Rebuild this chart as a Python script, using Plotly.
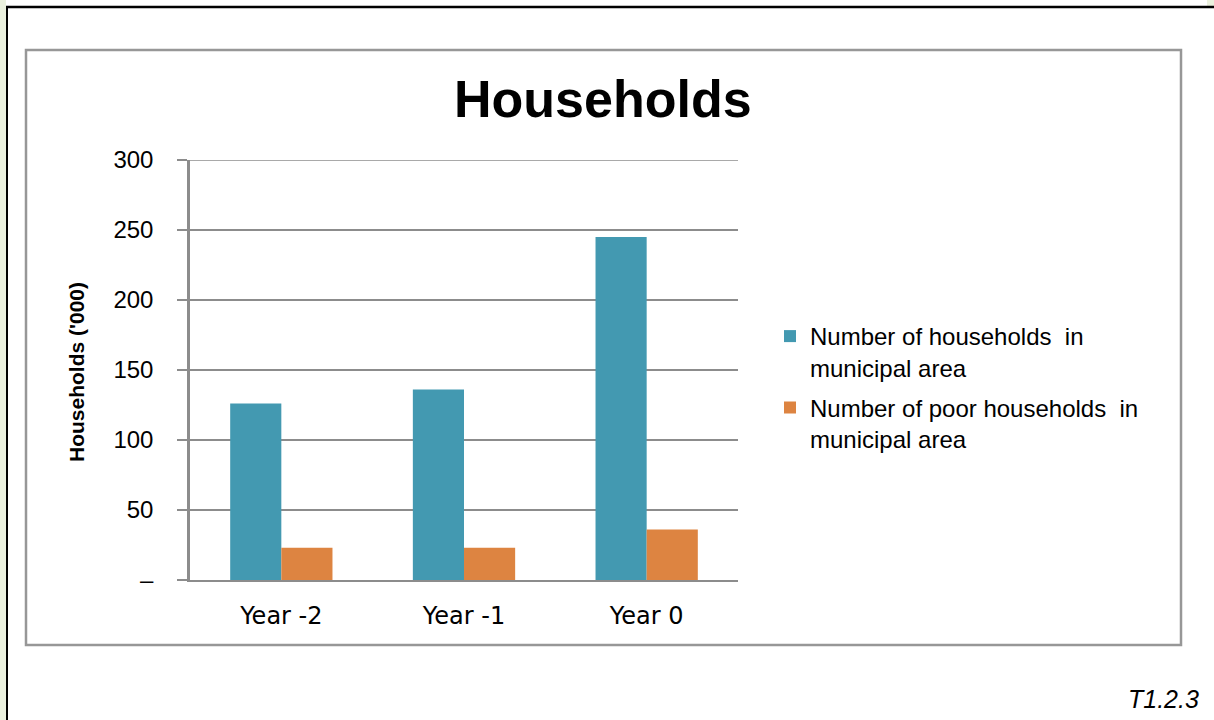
import plotly.graph_objects as go

# Households per year, in thousands
years = ["Year -2", "Year -1", "Year 0"]
households_total = [126, 136, 245]
households_poor = [23, 23, 36]

y_ticks = [0, 50, 100, 150, 200, 250, 300]
y_tick_text = ["–", "50", "100", "150", "200", "250", "300"]

series_names = [
    "Number of households  in<br>municipal area",
    "Number of poor households  in<br>municipal area",
]

W, H = 1214, 720
ML, MR, MT, MB = 190, 476, 160, 140
PW, PH = W - ML - MR, H - MT - MB


def px(x):
    return (x - ML) / PW


def py(y):
    return (H - MB - y) / PH


fig = go.Figure()
fig.add_trace(go.Bar(x=years, y=households_total, name=series_names[0], legendgroup="total",
                     marker=dict(color="#4399B1", line=dict(width=0))))
fig.add_trace(go.Bar(x=years, y=households_poor, name=series_names[1], legendgroup="poor",
                     marker=dict(color="#DD8441", line=dict(width=0))))

shapes = [
    # green page strips
    dict(type="rect", xref="paper", yref="paper", x0=px(0), x1=px(6), y0=py(720), y1=py(0),
         fillcolor="#EBF1DE", line=dict(width=0), layer="below"),
    dict(type="rect", xref="paper", yref="paper", x0=px(1207), x1=px(1214), y0=py(6), y1=py(0),
         fillcolor="#EBF1DE", line=dict(width=0), layer="below"),
    # black page frame
    dict(type="line", xref="paper", yref="paper", x0=px(7), x1=px(7), y0=py(6), y1=py(720),
         line=dict(color="black", width=2)),
    dict(type="line", xref="paper", yref="paper", x0=px(6), x1=px(1214), y0=py(7), y1=py(7),
         line=dict(color="black", width=2.5)),
    # chart box
    dict(type="rect", xref="paper", yref="paper", x0=px(26), x1=px(1181), y0=py(645), y1=py(50),
         line=dict(color="#979797", width=2.5), layer="below"),
    # top gridline at the range edge
    dict(type="line", xref="paper", yref="y", x0=0, x1=1, y0=y_ticks[-1], y1=y_ticks[-1],
         line=dict(color="#8c8c8c", width=1.5), layer="below"),
]

annotations = [
    dict(text="<b>Households</b>", xref="paper", yref="paper", x=px(603), y=py(99),
         showarrow=False, font=dict(family="Liberation Sans", size=52, color="black"),
         xanchor="center", yanchor="middle"),
    dict(text="<b>Households ('000)</b>", xref="paper", yref="paper", x=px(76), y=py(372),
         showarrow=False, textangle=-90, font=dict(family="Liberation Sans", size=21, color="black"),
         xanchor="center", yanchor="middle"),
    dict(text="<i>T1.2.3</i>", xref="paper", yref="paper", x=px(1201), y=py(699),
         showarrow=False, font=dict(family="Liberation Sans", size=25, color="black"),
         xanchor="right", yanchor="middle"),
]

fig.update_layout(
    width=W, height=H,
    margin=dict(l=ML, r=MR, t=MT, b=MB, pad=0),
    paper_bgcolor="white", plot_bgcolor="white",
    barmode="group", bargap=0.44, bargroupgap=0,
    font=dict(family="Liberation Sans", color="black"),
    shapes=shapes, annotations=annotations,
    showlegend=True,
    legend=dict(x=px(770), y=py(314), xanchor="left", yanchor="top",
                font=dict(family="Liberation Sans", size=24, color="black"),
                valign="top", traceorder="grouped", tracegroupgap=6, itemwidth=30,
                bgcolor="rgba(0,0,0,0)"),
)

fig.update_xaxes(
    showline=True, linecolor="#8c8c8c", linewidth=2,
    ticks="", showgrid=False,
    tickfont=dict(family="DejaVu Sans", size=24, color="black"),
    ticklabelstandoff=13,
)
fig.update_yaxes(
    range=[0, 300], tickvals=y_ticks, ticktext=y_tick_text,
    showgrid=True, gridcolor="#8c8c8c", gridwidth=1.5,
    showline=True, linecolor="#8c8c8c", linewidth=2.5,
    ticks="outside", ticklen=10, tickcolor="#8c8c8c", tickwidth=1.5,
    zeroline=False,
    tickfont=dict(family="Liberation Sans", size=24, color="black"),
    ticklabelstandoff=19,
)

fig.write_html("out.html")
